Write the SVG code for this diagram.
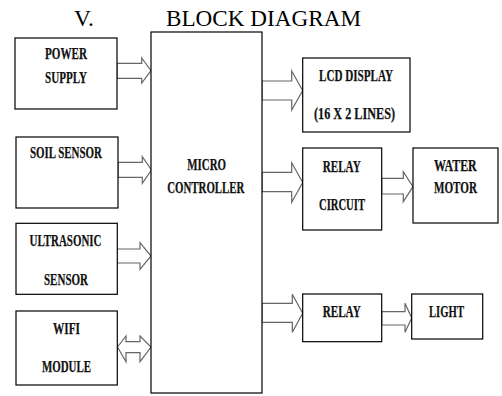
<svg xmlns="http://www.w3.org/2000/svg" width="502" height="396" viewBox="0 0 502 396">
<style>
.box{fill:#fff;stroke:#000;stroke-width:1.2}
.arr{fill:#fff;stroke:#666;stroke-width:1.2;stroke-linejoin:miter}
.lbl{font-family:"Liberation Serif","Times New Roman",serif;font-weight:bold;font-size:16.5px;fill:#111;stroke:#111;stroke-width:0.25;text-anchor:middle}
.title{font-family:"Liberation Serif","Times New Roman",serif;font-size:23.5px;fill:#000}
</style>
<rect width="502" height="396" fill="#fff"/>
<g id="title">
<text class="title" x="74" y="26">V.</text>
<text class="title" x="166" y="26" textLength="195" lengthAdjust="spacingAndGlyphs">BLOCK DIAGRAM</text>
</g>
<g id="connectors">
<polygon class="arr" points="117,63.3 141.7,63.3 141.7,58 151,70.7 141.7,83 141.7,78.3 117,78.3"/>
<polygon class="arr" points="118,162.3 142.3,162.3 142.3,156.7 151.5,170 142.3,183.3 142.3,177.3 118,177.3"/>
<polygon class="arr" points="117,249 140,249 140,242.7 151,256 140,269.3 140,263 117,263"/>
<polygon class="arr" points="117.5,347 126,336 126,341.7 140,341.7 140,336 151,347 140,361.7 140,352.7 126,352.7 126,361.7"/>
<polygon class="arr" points="262,81 291.7,81 291.7,71 302.7,90.5 291.7,110 291.7,100 262,100"/>
<polygon class="arr" points="262,172.3 291.7,172.3 291.7,162.7 302.7,182.5 291.7,202.3 291.7,191.7 262,191.7"/>
<polygon class="arr" points="381.7,178.3 403.3,178.3 403.3,171.7 413,186.7 403.3,201.7 403.3,194 381.7,194"/>
<polygon class="arr" points="262,303.3 292.3,303.3 292.3,294.3 302.7,313.3 292.3,332.3 292.3,322.3 262,322.3"/>
<polygon class="arr" points="381.7,311.7 405,311.7 405,303.3 411.7,318 405,332.3 405,325 381.7,325"/>
</g>
<g id="power-supply">
<rect class="box" x="15" y="38" width="102" height="71"/>
<text class="lbl" x="66" y="59.3" textLength="42" lengthAdjust="spacingAndGlyphs">POWER</text>
<text class="lbl" x="66" y="83.3" textLength="42" lengthAdjust="spacingAndGlyphs">SUPPLY</text>
</g>
<g id="soil-sensor">
<rect class="box" x="16" y="137" width="102" height="71"/>
<text class="lbl" x="66" y="157.7" textLength="72" lengthAdjust="spacingAndGlyphs">SOIL SENSOR</text>
</g>
<g id="ultrasonic-sensor">
<rect class="box" x="16" y="223.3" width="101.3" height="71"/>
<text class="lbl" x="65.5" y="246" textLength="72" lengthAdjust="spacingAndGlyphs">ULTRASONIC</text>
<text class="lbl" x="66" y="285" textLength="44" lengthAdjust="spacingAndGlyphs">SENSOR</text>
</g>
<g id="wifi-module">
<rect class="box" x="16" y="311" width="101.3" height="74"/>
<text class="lbl" x="66.5" y="334" textLength="27" lengthAdjust="spacingAndGlyphs">WIFI</text>
<text class="lbl" x="66.5" y="371.5" textLength="49" lengthAdjust="spacingAndGlyphs">MODULE</text>
</g>
<g id="microcontroller">
<rect class="box" x="151" y="32" width="111" height="361"/>
<text class="lbl" x="206.7" y="170" textLength="38.7" lengthAdjust="spacingAndGlyphs">MICRO</text>
<text class="lbl" x="205.8" y="193" textLength="77" lengthAdjust="spacingAndGlyphs">CONTROLLER</text>
</g>
<g id="lcd-display">
<rect class="box" x="302.7" y="58" width="107.3" height="74"/>
<text class="lbl" x="356" y="80.5" textLength="74" lengthAdjust="spacingAndGlyphs">LCD DISPLAY</text>
<text class="lbl" x="354.5" y="119" textLength="81" lengthAdjust="spacingAndGlyphs">(16 X 2 LINES)</text>
</g>
<g id="relay-circuit">
<rect class="box" x="302.7" y="148" width="79" height="82"/>
<text class="lbl" x="341.7" y="171.5" textLength="38" lengthAdjust="spacingAndGlyphs">RELAY</text>
<text class="lbl" x="342" y="210" textLength="46" lengthAdjust="spacingAndGlyphs">CIRCUIT</text>
</g>
<g id="water-motor">
<rect class="box" x="413" y="148" width="85" height="75"/>
<text class="lbl" x="455.3" y="170.5" textLength="42.7" lengthAdjust="spacingAndGlyphs">WATER</text>
<text class="lbl" x="455.5" y="193" textLength="43" lengthAdjust="spacingAndGlyphs">MOTOR</text>
</g>
<g id="relay">
<rect class="box" x="302.7" y="294" width="79" height="47.7"/>
<text class="lbl" x="341.7" y="317" textLength="38" lengthAdjust="spacingAndGlyphs">RELAY</text>
</g>
<g id="light">
<rect class="box" x="411.7" y="294" width="71" height="45"/>
<text class="lbl" x="446.5" y="317" textLength="35" lengthAdjust="spacingAndGlyphs">LIGHT</text>
</g>
</svg>
